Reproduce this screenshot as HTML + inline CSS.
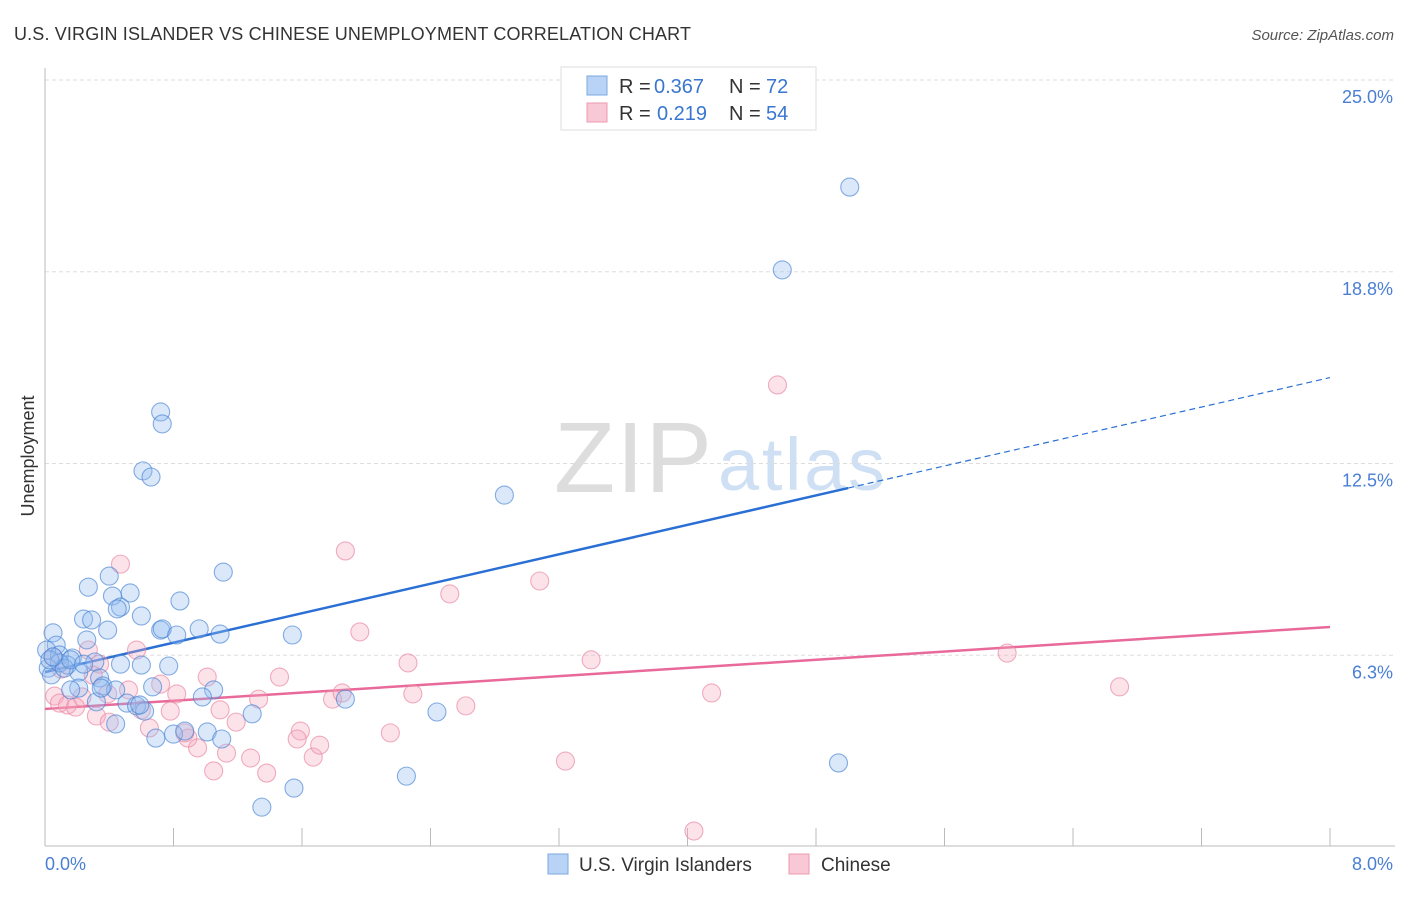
<!DOCTYPE html>
<html><head><meta charset="utf-8"><style>
body{margin:0;background:#fff;font-family:"Liberation Sans",sans-serif;}
svg text{font-family:"Liberation Sans",sans-serif;}
</style></head><body>
<svg id="chart" width="1406" height="892" viewBox="0 0 1406 892">
<text x="14" y="40" font-size="18" fill="#333" textLength="677">U.S. VIRGIN ISLANDER VS CHINESE UNEMPLOYMENT CORRELATION CHART</text>
<text x="1394" y="40" font-size="15" fill="#555" font-style="italic" text-anchor="end">Source: ZipAtlas.com</text>
<g>
<text x="554" y="492" font-size="100" fill="#ddd" font-family="Liberation Serif,serif" textLength="158">ZIP</text>
<text x="718" y="490" font-size="74" fill="#cfe0f4" textLength="167">atlas</text>
</g>
<g id="grid"></g><g id="axes"></g><g id="lines"></g><g id="pts"></g>
<text x="34" y="456" font-size="18" fill="#333" text-anchor="middle" transform="rotate(-90 34 456)">Unemployment</text>
<text x="45" y="870" font-size="18" fill="#4a7fd4">0.0%</text>
<text x="1393" y="870" font-size="18" fill="#4a7fd4" text-anchor="end">8.0%</text>
<g>
<rect x="561" y="67" width="255" height="63" fill="#fff" stroke="#ddd"/>
<rect x="587" y="76" width="20" height="19" fill="#b8d3f5" stroke="#7aa8e0"/>
<text x="619" y="93" font-size="20" fill="#333">R =</text>
<text x="654" y="93" font-size="20" fill="#3a76d0">0.367</text>
<text x="729" y="93" font-size="20" fill="#333">N =</text>
<text x="766" y="93" font-size="20" fill="#3a76d0">72</text>
<rect x="587" y="103" width="20" height="19" fill="#f9c8d6" stroke="#ee98b0"/>
<text x="619" y="120" font-size="20" fill="#333">R =</text>
<text x="657" y="120" font-size="20" fill="#3a76d0">0.219</text>
<text x="729" y="120" font-size="20" fill="#333">N =</text>
<text x="766" y="120" font-size="20" fill="#3a76d0">54</text>
</g>
<g>
<rect x="548" y="854" width="20" height="20" fill="#b8d3f5" stroke="#7aa8e0"/>
<text x="579" y="871" font-size="19" fill="#333">U.S. Virgin Islanders</text>
<rect x="789" y="854" width="20" height="20" fill="#f9c8d6" stroke="#ee98b0"/>
<text x="821" y="871" font-size="19" fill="#333">Chinese</text>
</g>
</svg>
<script>
const yTicks=[25,18.8,12.5,6.3];
const yTickVals=[25,18.75,12.5,6.25];
const xTicks=[0,0.8,1.6,2.4,3.2,4.0,4.8,5.6,6.4,7.2,8.0];
const blueX=[5.01,4.59,2.86,0.72,0.73,0.61,0.66,1.11,0.40,0.27,0.53,0.42,0.84,0.47,0.45,0.60,0.24,0.29,0.39,0.72,0.73,0.82,0.96,1.09,1.54,0.05,0.07,0.26,0.01,0.09,0.17,0.31,0.14,0.47,0.60,0.77,0.02,0.21,0.04,0.34,0.36,0.21,0.16,0.44,0.67,1.05,0.98,1.87,0.32,0.51,0.57,0.62,1.29,2.44,0.44,1.01,0.80,0.87,0.69,1.10,2.25,4.94,1.55,1.35,0.09,0.12,0.35,0.59,0.03,0.16,0.24,0.05];
const blueY=[21.51,18.81,11.47,14.18,13.79,12.26,12.06,8.96,8.83,8.47,8.28,8.18,8.02,7.82,7.76,7.53,7.43,7.40,7.07,7.07,7.11,6.91,7.11,6.94,6.91,6.98,6.58,6.75,6.42,6.26,6.16,6.03,5.93,5.96,5.93,5.90,5.83,5.70,5.61,5.51,5.25,5.18,5.12,5.12,5.22,5.12,4.89,4.82,4.73,4.69,4.60,4.43,4.34,4.40,4.01,3.75,3.68,3.78,3.55,3.52,2.31,2.74,1.92,1.30,6.00,5.83,5.18,4.63,6.10,6.10,5.96,6.20];
const pinkX=[4.56,1.87,3.08,2.52,0.47,1.96,3.40,2.26,5.99,6.69,0.57,0.27,0.34,0.05,1.01,1.46,0.72,0.82,0.52,0.23,0.06,0.14,0.09,0.19,0.39,1.79,1.85,1.33,2.29,2.62,4.15,0.78,1.09,0.32,0.40,0.65,0.89,0.95,1.19,1.59,1.57,1.67,1.71,2.15,1.13,1.28,1.05,1.38,3.24,4.04,0.60,0.87,0.10,0.30];
const pinkY=[15.06,9.65,8.67,8.25,9.22,7.01,6.10,6.00,6.32,5.22,6.42,6.42,5.96,6.19,5.54,5.54,5.31,4.99,5.12,4.89,4.92,4.63,4.69,4.56,4.99,4.82,5.02,4.82,4.99,4.60,5.02,4.43,4.47,4.27,4.07,3.88,3.55,3.23,4.07,3.78,3.52,2.93,3.32,3.72,3.06,2.90,2.48,2.41,2.80,0.52,4.47,3.72,5.80,5.60];
const blueFit=[5.70,1.20]; // intercept, slope
const pinkFit=[4.50,0.334];
const blueSolidEnd=5.0;
const NS="http://www.w3.org/2000/svg";
const X0=45,X1=1330,Y0=847,YT=80;
const sx=v=>X0+(X1-X0)*v/8;
const sy=v=>Y0-(Y0-YT)*v/25;
function mk(tag,attrs,parent){const e=document.createElementNS(NS,tag);for(const k in attrs)e.setAttribute(k,attrs[k]);document.getElementById(parent).appendChild(e);return e;}
yTickVals.forEach((v,i)=>{
 const g=mk('line',{x1:X0,x2:1395,y1:sy(v),y2:sy(v),stroke:'#ddd','stroke-dasharray':'4,3'},'grid');
 
 
 const t=mk('text',{x:1393,y:sy(v)+23,'font-size':18,fill:'#4a7fd4','text-anchor':'end'},'grid');
 t.textContent=yTicks[i].toFixed(1)+'%';
 
 
});
let a=mk('line',{x1:X0,x2:X0,y1:68,y2:846,stroke:'#bbb'},'axes');


a=mk('line',{x1:X0,x2:1395,y1:846,y2:846,stroke:'#bbb'},'axes');


xTicks.forEach(v=>{const t=mk('line',{x1:sx(v),x2:sx(v),y1:828,y2:846,stroke:'#bbb'},'axes');
 
 });
function pts(xs,ys,fill,stroke,name){xs.forEach((x,i)=>{const c=mk('circle',{cx:sx(x),cy:sy(ys[i]),r:9,fill:fill,stroke:stroke,'stroke-width':1.1},'pts');
 
 });}
pts(pinkX,pinkY,'rgba(246,170,192,0.33)','rgba(232,130,160,0.65)','chinese-point');
pts(blueX,blueY,'rgba(150,190,240,0.35)','rgba(70,130,210,0.65)','virgin-islander-point');
let l=mk('line',{x1:sx(0),y1:sy(pinkFit[0]),x2:sx(8),y2:sy(pinkFit[0]+8*pinkFit[1]),stroke:'#e8699a','stroke-width':2.5},'lines');


l=mk('line',{x1:sx(0),y1:sy(blueFit[0]),x2:sx(blueSolidEnd),y2:sy(blueFit[0]+blueSolidEnd*blueFit[1]),stroke:'#2a6fd4','stroke-width':2.5},'lines');


l=mk('line',{x1:sx(blueSolidEnd),y1:sy(blueFit[0]+blueSolidEnd*blueFit[1]),x2:sx(8),y2:sy(blueFit[0]+8*blueFit[1]),stroke:'#2a6fd4','stroke-width':1.2,'stroke-dasharray':'6,4'},'lines');


</script>
</body></html>
